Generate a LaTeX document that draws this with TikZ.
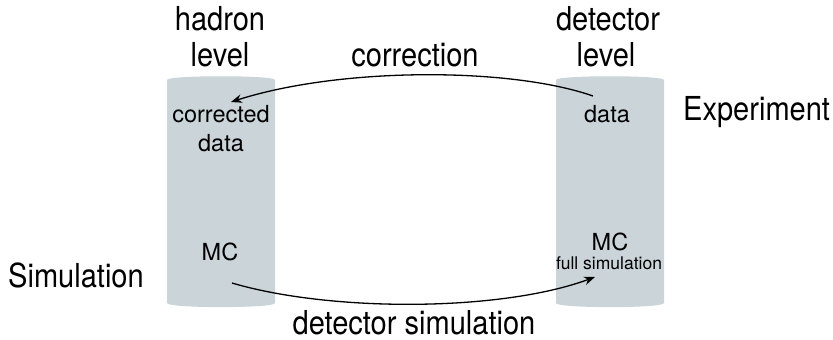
\documentclass[tikz,border=0pt]{standalone}
\usepackage{fontspec}
\setmainfont{TeX Gyre Heros}
\newfontfamily\labelfont[FakeStretch=0.88]{TeX Gyre Heros}
\usetikzlibrary{arrows.meta}
\definecolor{columnfill}{RGB}{202,212,217}
\begin{document}
\begin{tikzpicture}[x=1pt,y=-1pt,
  biglabel/.style={anchor=base,inner sep=0pt,font=\labelfont\fontsize{33}{38}\selectfont},
  innerlabel/.style={anchor=base,inner sep=0pt,font=\fontsize{23.5}{28}\selectfont},
  smalllabel/.style={anchor=base,inner sep=0pt,font=\fontsize{17.5}{21}\selectfont},
  flow/.style={line width=1.3pt,-{Stealth[length=11pt,width=8.5pt]}}]
\useasboundingbox (0,0) rectangle (833,340);

% the two level columns
\fill[columnfill] (167,303) -- (167,80) .. controls (167,75) and (275,75) .. (275,80)
  -- (275,303) .. controls (275,308.5) and (167,308.5) .. (167,303) -- cycle;
\fill[columnfill] (556,303) -- (556,80) .. controls (556,75) and (664,75) .. (664,80)
  -- (664,303) .. controls (664,308.5) and (556,308.5) .. (556,303) -- cycle;

% column headings
\node[biglabel] (hadron) at (220,30) {hadron};
\node[biglabel] (hlevel) at (220,66) {level};
\node[biglabel] (detector) at (608,30) {detector};
\node[biglabel] (dlevel) at (606,66) {level};

% row and arrow labels
\node[biglabel] (correction) at (415,66) {correction};
\node[biglabel,anchor=base west] (experiment) at (683,120) {Experiment};
\node[biglabel,anchor=base west] (simulation) at (8,287) {Simulation};
\node[biglabel] (detsim) at (414,334) {detector simulation};

% contents of the columns
\node[innerlabel] (corrected) at (221,122) {corrected};
\node[innerlabel] (cdata) at (221,151) {data};
\node[innerlabel] (hmc) at (220,260) {MC};
\node[innerlabel] (ddata) at (607,122) {data};
\node[innerlabel] (dmc) at (610,250) {MC};
\node[smalllabel] (fullsim) at (609,269) {full simulation};

% arrow end points
\coordinate (corrStart) at (593,96);
\coordinate (corrEnd) at (231,102);
\coordinate (simStart) at (232,283);
\coordinate (simEnd) at (595,277);

\draw[flow] (corrStart) .. controls (510,67) and (340,67) .. (corrEnd);
\draw[flow] (simStart) .. controls (330,312) and (500,312) .. (simEnd);
\end{tikzpicture}
\end{document}
